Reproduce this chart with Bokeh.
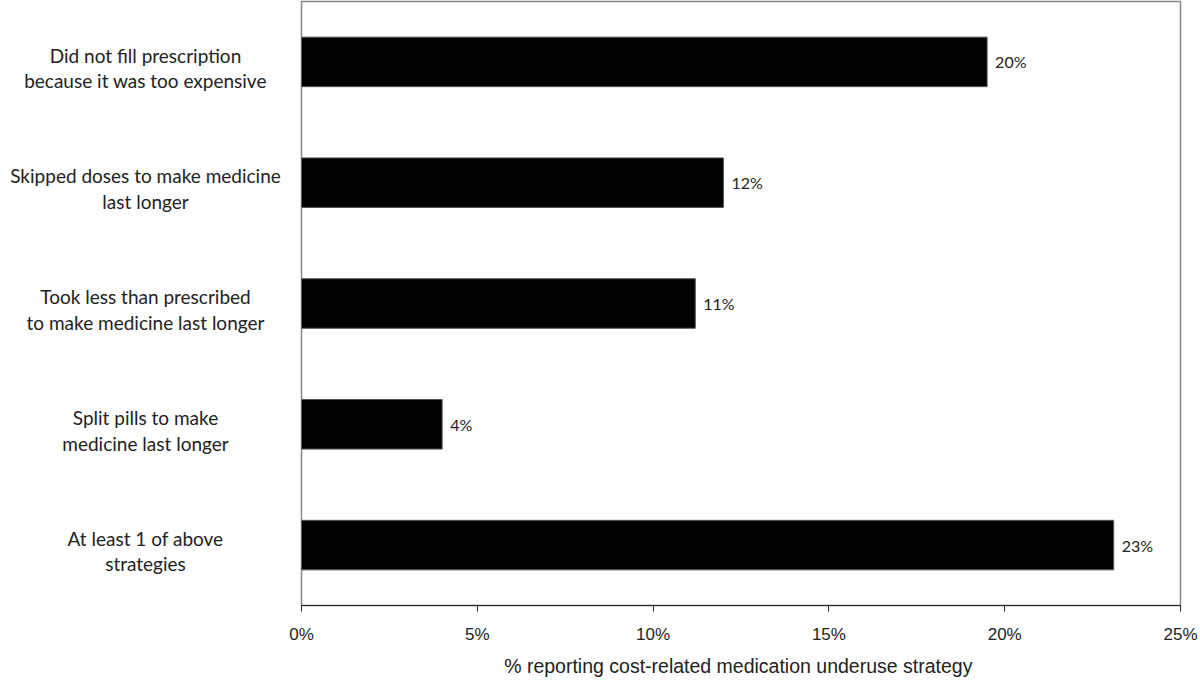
from bokeh.plotting import figure
from bokeh.layouts import row
from bokeh.models import ColumnDataSource, Range1d, FixedTicker, PrintfTickFormatter, FactorRange
from bokeh.core.properties import value
from bokeh.embed import file_html
from bokeh.resources import INLINE

categories = [
    "Did not fill prescription\nbecause it was too expensive",
    "Skipped doses to make medicine\nlast longer",
    "Took less than prescribed\nto make medicine last longer",
    "Split pills to make\nmedicine last longer",
    "At least 1 of above\nstrategies",
]
values = [19.5, 12.0, 11.2, 4.0, 23.1]
value_labels = ["20%", "12%", "11%", "4%", "23%"]
x_ticks = [0, 5, 10, 15, 20, 25]

source = ColumnDataSource(data=dict(cat=categories, val=values, lab=value_labels))
y_range = FactorRange(*reversed(categories))

FRAME_H = 604

# main chart
p = figure(
    frame_width=879, frame_height=FRAME_H,
    y_range=y_range, x_range=Range1d(0, 25),
    output_backend="svg", toolbar_location=None,
    min_border_left=20, min_border_right=19, min_border_top=1, min_border_bottom=0,
)

p.hbar(y="cat", right="val", left=0, height=0.41, source=source,
       fill_color="black", line_color="#555555", line_width=1)

p.text(x="val", y="cat", text="lab", source=source, x_offset=8,
       text_baseline="middle", text_align="left",
       text_font=value("Lato"), text_font_size="16px", text_color="#222222")

p.xgrid.visible = False
p.ygrid.visible = False
p.outline_line_color = "#888888"
p.outline_line_width = 1.5
p.yaxis.visible = False

xa = p.xaxis[0]
xa.ticker = FixedTicker(ticks=x_ticks)
xa.formatter = PrintfTickFormatter(format="%d%%")
xa.major_tick_in = 0
xa.major_tick_out = 6
xa.minor_tick_in = 0
xa.minor_tick_out = 0
xa.axis_line_color = "#222222"
xa.major_tick_line_color = "#222222"
xa.major_label_text_font = "Liberation Sans"
xa.major_label_text_font_size = "17px"
xa.major_label_text_color = "#222222"
xa.major_label_text_line_height = 1.0
xa.major_label_standoff = 13
xa.axis_label = "% reporting cost-related medication underuse  strategy"
xa.axis_label_text_font = "Liberation Sans"
xa.axis_label_text_font_size = "19.5px"
xa.axis_label_text_font_style = "normal"
xa.axis_label_text_color = "#222222"
xa.axis_label_text_line_height = 1.0
xa.axis_label_standoff = 8

# category labels column, sharing the y scale
lab = figure(
    frame_width=281, frame_height=FRAME_H,
    y_range=y_range, x_range=Range1d(0, 281),
    output_backend="svg", toolbar_location=None,
    min_border_left=0, min_border_right=0, min_border_top=1, min_border_bottom=0,
)
lab.text(x=145, y="cat", text="cat", source=source,
         text_align="center", text_baseline="middle", y_offset=6,
         text_font=value("Lato"), text_font_size="19px", text_color="#222222",
         text_line_height=1.12)
lab.axis.visible = False
lab.grid.visible = False
lab.outline_line_color = None

layout = row(lab, p)
open("out.html", "w").write(file_html(layout, INLINE))
